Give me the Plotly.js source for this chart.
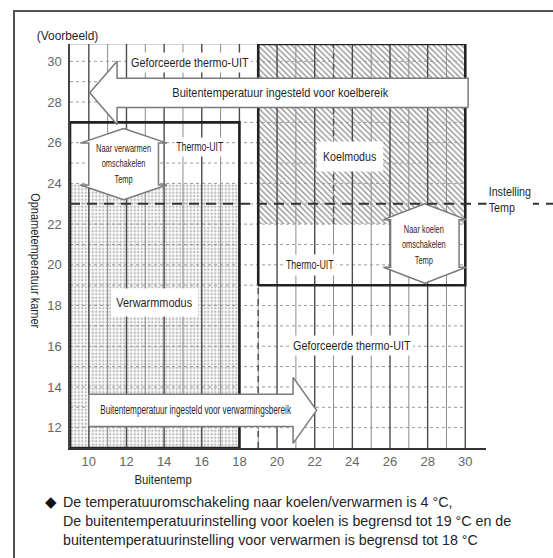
<!DOCTYPE html>
<html><head><meta charset="utf-8">
<script src="https://cdn.plot.ly/plotly-3.0.1.min.js"></script>
<style>
html,body{margin:0;padding:0;background:#fff;}
#chart{width:553px;height:558px;}
#frame{position:absolute;left:13px;top:10px;width:560px;height:560px;border-top:2px solid #55504d;border-left:2px solid #55504d;pointer-events:none;}
</style>
</head><body><div id="chart"></div><div id="frame"></div>
<script>
// ---------- data ----------
const xTicks = [10, 12, 14, 16, 18, 20, 22, 24, 26, 28, 30];
const yTicks = [12, 14, 16, 18, 20, 22, 24, 26, 28, 30];
const gridX = [10, 11, 12, 13, 14, 15, 16, 17, 18, 19, 20, 21, 22, 23, 24, 25, 26, 27, 28, 29, 30];
const gridY = [12, 13, 14, 15, 16, 17, 18, 19, 20, 21, 22, 23, 24, 25, 26, 27, 28, 29, 30];
const heatZoneX = [9, 18];        // outdoor temp range of heating box
const heatZoneY = [11, 27];       // room temp range of heating box
const heatModeY = [11, 24];       // heating mode (stippled)
const coolZoneX = [19, 30];       // outdoor temp range of cooling box
const coolZoneY = [19, 30.85];    // room temp range of cooling box
const coolModeY = [22, 30.85];    // cooling mode (hatched)
const setTemp = [23];             // setting temp
const coolLimitX = [19];          // cooling outdoor limit
const coolLimitY = [11, 19];
const coolSplitX = [23];
const coolSplitY = [22, 30.85];
const coolRangeArrowX = [30.15, 10.05];   // arrow from -> to
const coolRangeArrowY = [28.45];
const heatRangeArrowX = [10, 22.1];
const heatRangeArrowY = [12.85];
const heatSwitchArrowY = [23.2, 26.7];
const heatSwitchArrowX = [11.85];
const coolSwitchArrowY = [19.1, 23.0];
const coolSwitchArrowX = [27.85];

// ---------- layout constants ----------
const xRange = [9, 31.1];
const yRange = [11, 30.85];
const FONT = "'Liberation Sans', Arial, sans-serif";
const TXT = '#1f1f1f';

function rect(xs, ys) {
  return {x: [xs[0], xs[1], xs[1], xs[0], xs[0]], y: [ys[0], ys[0], ys[1], ys[1], ys[0]]};
}
function hArrow(x0, x1, yc, bh, hh, hl) {
  const d = Math.sign(x1 - x0); const b = x1 - d * hl;
  return {x: [x0, b, b, x1, b, b, x0, x0], y: [yc - bh, yc - bh, yc - hh, yc, yc + hh, yc + bh, yc + bh, yc - bh]};
}
function vDouble(xc, y0, y1, bw, hw, hl) {
  return {
    x: [xc, xc + hw, xc + bw, xc + bw, xc + hw, xc, xc - hw, xc - bw, xc - bw, xc - hw, xc],
    y: [y1, y1 - hl, y1 - hl, y0 + hl, y0 + hl, y0, y0 + hl, y0 + hl, y1 - hl, y1 - hl, y1]
  };
}

const traces = [];
const hm = rect(heatZoneX, heatModeY);
traces.push({type: 'scatter', mode: 'lines', x: hm.x, y: hm.y, fill: 'toself', line: {width: 0},
  fillcolor: 'rgba(0,0,0,0)', fillpattern: {shape: '.', fgcolor: '#bdbdbd', bgcolor: '#ffffff', size: 3.5, solidity: 0.4}, hoverinfo: 'skip'});
const cm = rect(coolZoneX, coolModeY);
traces.push({type: 'scatter', mode: 'lines', x: cm.x, y: cm.y, fill: 'toself', line: {width: 0},
  fillcolor: 'rgba(0,0,0,0)', fillpattern: {shape: '\\', fgcolor: '#8a8a8a', bgcolor: '#ffffff', size: 4, solidity: 0.3}, hoverinfo: 'skip'});

// grid
const hx = [], hy = [];
gridY.forEach(v => { hx.push(xRange[0], coolZoneX[1], null); hy.push(v, v, null); });
traces.push({type: 'scatter', mode: 'lines', x: hx, y: hy, line: {color: '#9a9a9a', width: 1, dash: 'dot'}, hoverinfo: 'skip'});
traces.push({type: 'scatter', mode: 'lines', x: [xRange[0], coolZoneX[1]], y: [yRange[1], yRange[1]], line: {color: '#aaaaaa', width: 1}, hoverinfo: 'skip'});
const ox = [], oy = [], ex = [], ey = [];
gridX.forEach(v => {
  if (v % 2) { ox.push(v, v, null); oy.push(yRange[0], yRange[1], null); }
  else { ex.push(v, v, null); ey.push(yRange[0], yRange[1], null); }
});
traces.push({type: 'scatter', mode: 'lines', x: ox, y: oy, line: {color: '#8c8c8c', width: 1}, hoverinfo: 'skip'});
traces.push({type: 'scatter', mode: 'lines', x: ex, y: ey, line: {color: '#4a4a4a', width: 1.4}, hoverinfo: 'skip'});

traces.push({type: 'scatter', mode: 'lines', x: [coolLimitX[0], coolLimitX[0]], y: coolLimitY, line: {color: '#555', width: 1.6, dash: '6px,5px'}, hoverinfo: 'skip'});
traces.push({type: 'scatter', mode: 'lines', x: [coolSplitX[0], coolSplitX[0]], y: coolSplitY, line: {color: '#555', width: 1.6, dash: '6px,5px'}, hoverinfo: 'skip'});

const hz = rect(heatZoneX, heatZoneY), cz = rect(coolZoneX, coolZoneY);
traces.push({type: 'scatter', mode: 'lines', x: hz.x, y: hz.y, line: {color: '#222', width: 2.6}, hoverinfo: 'skip'});
traces.push({type: 'scatter', mode: 'lines', x: cz.x, y: cz.y, line: {color: '#222', width: 2.6}, hoverinfo: 'skip'});

const arrows = [
  hArrow(coolRangeArrowX[0], coolRangeArrowX[1], coolRangeArrowY[0], 0.72, 1.55, 1.45),
  hArrow(heatRangeArrowX[0], heatRangeArrowX[1], heatRangeArrowY[0], 0.79, 1.62, 1.25),
  vDouble(heatSwitchArrowX[0], heatSwitchArrowY[0], heatSwitchArrowY[1], 1.85, 2.3, 0.72),
  vDouble(coolSwitchArrowX[0], coolSwitchArrowY[0], coolSwitchArrowY[1], 1.82, 2.2, 0.78)
];
arrows.forEach(a => traces.push({type: 'scatter', mode: 'lines', x: a.x, y: a.y, fill: 'toself', fillcolor: '#ffffff',
  line: {color: '#7a7a7a', width: 1.5}, hoverinfo: 'skip'}));

const yP = (setTemp[0] - yRange[0]) / (yRange[1] - yRange[0]);
const shapes = [{type: 'line', xref: 'paper', yref: 'paper', x0: 0, x1: 1.165, y0: yP, y1: yP,
  line: {color: '#333', width: 2.2, dash: '10px,7px'}, layer: 'above'}];

// annotations + horizontal squeeze (to imitate the condensed typeface)
const squeeze = [];
function lab(text, x, y, size, bg, pad, sq, extra) {
  squeeze.push(sq || [1, 'c']);
  return Object.assign({text: text, x: x, y: y, xref: 'x', yref: 'y', showarrow: false,
    xanchor: 'center', yanchor: 'middle',
    font: {family: FONT, size: size, color: TXT}, bgcolor: bg ? '#ffffff' : 'rgba(0,0,0,0)', borderpad: pad || 1}, extra || {});
}
const P = {xref: 'paper', yref: 'paper'};
const annotations = [
  lab('Geforceerde thermo-UIT', 15.4, 29.95, 13, true, 2, [0.83, 'c']),
  lab('Buitentemperatuur ingesteld voor koelbereik', 20.2, 28.45, 13, false, 1, [0.85, 'c']),
  lab('Naar verwarmen<br>omschakelen<br>Temp', 11.85, 25.0, 11.8, false, 1, [0.63, 'c']),
  lab('Thermo-UIT', 15.9, 25.77, 12.5, true, 2, [0.7, 'c']),
  lab('Koelmodus', 23.9, 25.3, 13, true, 7, [0.82, 'c']),
  lab('Thermo-UIT', 21.75, 20.0, 12.5, true, 3, [0.71, 'c']),
  lab('Naar koelen<br>omschakelen<br>Temp', 27.8, 21.0, 11.8, false, 1, [0.63, 'c']),
  lab('Verwarmmodus', 13.5, 18.15, 13, true, 6, [0.84, 'c']),
  lab('Geforceerde thermo-UIT', 24.0, 16.05, 13, true, 2, [0.83, 'c']),
  lab('Buitentemperatuur ingesteld voor verwarmingsbereik', 15.7, 12.85, 12, false, 1, [0.68, 'c']),
  lab('Instelling<br>Temp', 1.0, 23.2, 12.5, true, 2, [0.86, 'l'], {xref: 'paper', xanchor: 'left', align: 'left'}),
  lab('(Voorbeeld)', -0.084, 1.022, 13.5, false, 1, [0.88, 'l'], Object.assign({xanchor: 'left'}, P)),
  lab('Opnametemperatuur kamer', -0.084, 0.463, 12.5, false, 1, [0.88, 'c'], Object.assign({textangle: 90}, P)),
  lab('Buitentemp', 0.2236, -0.079, 13.5, false, 1, [0.84, 'c'], P),
  lab('◆', -0.046, -0.1337, 15, false, 0, [1, 'c'], Object.assign({font: {family: 'DejaVu Sans', size: 15, color: '#111'}}, P)),
  lab('De temperatuuromschakeling naar koelen/verwarmen is 4 °C,<br>De buitentemperatuurinstelling voor koelen is begrensd tot 19 °C en de<br>buitentemperatuurinstelling voor verwarmen is begrensd tot 18 °C',
      -0.0216, -0.1807, 14.5, false, 0, [0.985, 'l'], Object.assign({xanchor: 'left', align: 'left'}, P))
];

const layout = {
  width: 553, height: 558,
  margin: {l: 70, r: 67, t: 44, b: 110},
  paper_bgcolor: '#fff', plot_bgcolor: '#fff',
  showlegend: false,
  xaxis: {range: xRange, tickvals: xTicks, ticktext: xTicks.map(String), showgrid: false, zeroline: false,
    showline: true, linecolor: '#333', linewidth: 1.6, ticks: '', ticklabelstandoff: 1,
    tickfont: {family: FONT, size: 13, color: '#666'}, fixedrange: true},
  yaxis: {range: yRange, tickvals: yTicks, ticktext: yTicks.map(String), showgrid: false, zeroline: false,
    showline: true, linecolor: '#444', linewidth: 1.6, ticks: '', ticklabelstandoff: 4,
    tickfont: {family: FONT, size: 13, color: '#666'}, fixedrange: true},
  shapes: shapes,
  annotations: annotations
};
Plotly.newPlot('chart', traces, layout, {displayModeBar: false, staticPlot: true}).then(gd => {
  gd.querySelectorAll('.annotation').forEach(g => {
    const idx = +g.getAttribute('data-index');
    const sq = squeeze[idx];
    if (!sq || sq[0] === 1) return;
    const inner = g.querySelector('.annotation-text-g > g');
    if (!inner) return;
    const bb = inner.getBBox();
    const cx = sq[1] === 'l' ? bb.x : bb.x + bb.width / 2;
    const t = inner.getAttribute('transform') || '';
    inner.setAttribute('transform', t + ' translate(' + cx + ',0) scale(' + sq[0] + ',1) translate(' + (-cx) + ',0)');
  });
});
</script>
</body></html>
